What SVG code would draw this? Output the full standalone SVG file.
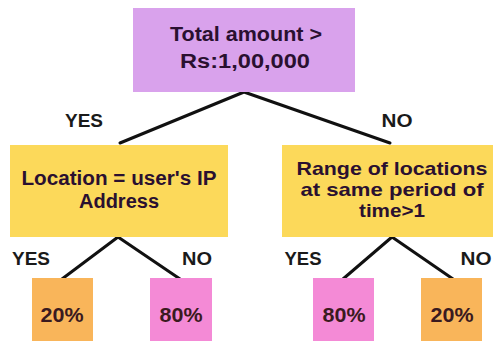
<svg xmlns="http://www.w3.org/2000/svg" width="493" height="341" viewBox="0 0 493 341">
  <style>
    .lbl { font-family: "Liberation Sans", Arial, sans-serif; font-weight: 700; text-anchor: middle; }
    .node-text { font-size: 20px; fill: #2a1030; }
    .node-text.tight { font-size: 18.5px; }
    .branch { font-size: 19px; fill: #1a1a1a; }
    .leaf-text { font-size: 20px; fill: #3a1a20; }
    .edge { stroke: #111; stroke-width: 3; fill: none; stroke-linecap: round; stroke-linejoin: round; }
  </style>
  <rect width="493" height="341" fill="#ffffff"/>

  <g id="connectors">
    <polyline class="edge" points="120,143 244,92 390,143"/>
    <polyline class="edge" points="62,279 118,237 180,279"/>
    <polyline class="edge" points="343,279 392,237 453,279"/>
  </g>

  <g id="branch-labels">
    <text class="lbl branch" x="84" y="127" textLength="38" lengthAdjust="spacingAndGlyphs">YES</text>
    <text class="lbl branch" x="397" y="127" textLength="31" lengthAdjust="spacingAndGlyphs">NO</text>
    <text class="lbl branch" x="31" y="265" textLength="38" lengthAdjust="spacingAndGlyphs">YES</text>
    <text class="lbl branch" x="197" y="265" textLength="30" lengthAdjust="spacingAndGlyphs">NO</text>
    <text class="lbl branch" x="303" y="265" textLength="37" lengthAdjust="spacingAndGlyphs">YES</text>
    <text class="lbl branch" x="476" y="265" textLength="31" lengthAdjust="spacingAndGlyphs">NO</text>
  </g>

  <g id="root">
    <rect x="133" y="8" width="222" height="84" fill="#d9a2ec"/>
    <text class="lbl node-text" x="246" y="41" textLength="152" lengthAdjust="spacingAndGlyphs">Total amount &gt;</text>
    <text class="lbl node-text" x="245" y="68" textLength="130" lengthAdjust="spacingAndGlyphs">Rs:1,00,000</text>
  </g>

  <g id="location-check">
    <rect x="10" y="145" width="218" height="92" fill="#fcd95a"/>
    <text class="lbl node-text" x="119" y="185" textLength="195" lengthAdjust="spacingAndGlyphs">Location = user's IP</text>
    <text class="lbl node-text" x="119" y="208" textLength="80" lengthAdjust="spacingAndGlyphs">Address</text>
  </g>

  <g id="range-check">
    <rect x="282" y="145" width="223" height="92" fill="#fcd95a"/>
    <text class="lbl node-text tight" x="392" y="175" textLength="191" lengthAdjust="spacingAndGlyphs">Range of locations</text>
    <text class="lbl node-text tight" x="392" y="196" textLength="183" lengthAdjust="spacingAndGlyphs">at same period of</text>
    <text class="lbl node-text tight" x="392" y="217" textLength="66" lengthAdjust="spacingAndGlyphs">time&gt;1</text>
  </g>

  <g id="leaf-left-yes">
    <rect x="32" y="278" width="61" height="70" fill="#f9b55a"/>
    <text class="lbl leaf-text" x="62" y="322" textLength="43" lengthAdjust="spacingAndGlyphs">20%</text>
  </g>
  <g id="leaf-left-no">
    <rect x="150" y="278" width="62" height="70" fill="#f48ad6"/>
    <text class="lbl leaf-text" x="181" y="322" textLength="43" lengthAdjust="spacingAndGlyphs">80%</text>
  </g>
  <g id="leaf-right-yes">
    <rect x="313" y="278" width="61" height="70" fill="#f48ad6"/>
    <text class="lbl leaf-text" x="344" y="322" textLength="43" lengthAdjust="spacingAndGlyphs">80%</text>
  </g>
  <g id="leaf-right-no">
    <rect x="421" y="278" width="61" height="70" fill="#f9b55a"/>
    <text class="lbl leaf-text" x="452" y="322" textLength="43" lengthAdjust="spacingAndGlyphs">20%</text>
  </g>
</svg>
